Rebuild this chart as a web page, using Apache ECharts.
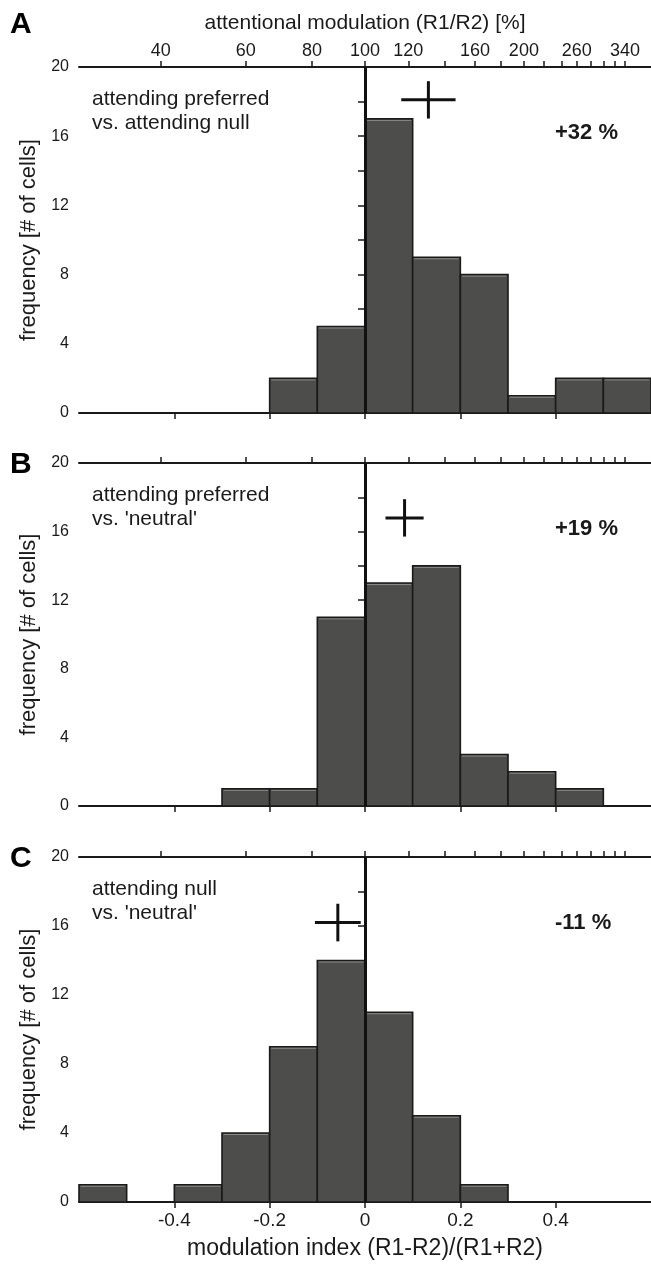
<!DOCTYPE html>
<html>
<head>
<meta charset="utf-8">
<script src="https://cdn.jsdelivr.net/npm/echarts@6/dist/echarts.min.js"></script>
<style>
html, body { margin: 0; padding: 0; background: #fff; }
#chart { width: 651px; height: 1269px; }
</style>
</head>
<body>
<div id="chart"></div>
<script>
// histogram bins: left edges, width 0.1
var binStarts = [-0.6, -0.5, -0.4, -0.3, -0.2, -0.1, 0, 0.1, 0.2, 0.3, 0.4, 0.5];
var binWidth = 0.1;
var countsA = [0, 0, 0, 0, 2, 5, 17, 9, 8, 1, 2, 2];
var countsB = [0, 0, 0, 1, 1, 11, 13, 14, 3, 2, 1, 0];
var countsC = [1, 0, 1, 4, 9, 14, 11, 5, 1, 0, 0, 0];

// mean +- error crosses: [x, y, dx, dy]
var crossA = [0.133, 18.1, 0.057, 1.08];
var crossB = [0.083, 16.8, 0.040, 1.09];
var crossC = [-0.057, 16.2, 0.048, 1.09];

var panelLetters = ['A', 'B', 'C'];
var panelLines = [
	['attending preferred', 'vs. attending null'],
	['attending preferred', "vs. 'neutral'"],
	['attending null', "vs. 'neutral'"]
];
var panelPercents = ['+32 %', '+19 %', '-11 %'];

var yTicks = [0, 2, 4, 6, 8, 10, 12, 14, 16, 18, 20];
var yLabels = [0, 4, 8, 12, 16, 20];
var xTicks = [-0.4, -0.2, 0, 0.2, 0.4];
var topTickPct = [40, 60, 80, 100, 120, 140, 160, 180, 200, 220, 240, 260, 280, 300, 320, 340];
var topLabelPct = [40, 60, 80, 100, 120, 160, 200, 260, 340];

var fontFam = '"Liberation Sans", Arial, sans-serif';
var ink = '#1a1a1a';

// R1/R2 in percent -> modulation index (R1-R2)/(R1+R2)
function pctToIndex(p) { return (p - 100) / (p + 100); }
function indexToPct(v) { return Math.round(100 * (1 + v) / (1 - v)); }

var grids = [
	{ left: 79, right: 0, top: 67, height: 346 },
	{ left: 79, right: 0, top: 463, height: 343 },
	{ left: 79, right: 0, top: 857, height: 345 }
];

function renderBar(params, api) {
	var x0 = api.value(0), x1 = api.value(1), n = api.value(2);
	var p0 = api.coord([x0, n]);
	var p1 = api.coord([x1, 0]);
	var kids = [{
		type: 'rect',
		shape: { x: p0[0], y: p0[1], width: p1[0] - p0[0], height: p1[1] - p0[1] },
		style: { fill: '#4d4d4b', stroke: ink, lineWidth: 1.6 }
	}];
	if (n > 0) {
		// faint light edge just under the top of each bar
		kids.push({
			type: 'line',
			shape: { x1: p0[0] + 1.5, y1: p0[1] + 1.5, x2: p1[0] - 1.5, y2: p0[1] + 1.5 },
			style: { stroke: '#8a8a88', lineWidth: 1 }
		});
	}
	return { type: 'group', children: kids };
}

function renderCross(params, api) {
	var x = api.value(0), y = api.value(1), dx = api.value(2), dy = api.value(3);
	var l = api.coord([x - dx, y]), r = api.coord([x + dx, y]);
	var t = api.coord([x, y + dy]), b = api.coord([x, y - dy]);
	var st = { stroke: '#111', lineWidth: 3 };
	return {
		type: 'group',
		children: [
			{ type: 'line', shape: { x1: l[0], y1: l[1], x2: r[0], y2: r[1] }, style: st },
			{ type: 'line', shape: { x1: t[0], y1: t[1], x2: b[0], y2: b[1] }, style: st }
		]
	};
}

var allCounts = [countsA, countsB, countsC];
var allCross = [crossA, crossB, crossC];

var xAxes = [], yAxes = [], series = [], graphics = [];

for (var i = 0; i < 3; i++) {
	var last = (i === 2);
	xAxes.push({
		gridIndex: i, type: 'value', position: 'bottom', min: -0.6, max: 0.6,
		name: last ? 'modulation index (R1-R2)/(R1+R2)' : '',
		nameLocation: 'middle', nameGap: 35,
		nameTextStyle: { fontFamily: fontFam, fontSize: 23, color: ink },
		axisLine: { onZero: false, lineStyle: { color: ink, width: 2 } },
		axisTick: { show: true, length: 6, customValues: xTicks, lineStyle: { color: ink, width: 1.5 } },
		axisLabel: { show: last, customValues: xTicks, margin: 9, fontFamily: fontFam, fontSize: 19, color: ink,
			formatter: function(v) { return v === 0 ? '0' : String(+v.toFixed(1)); } },
		splitLine: { show: false }
	});
	xAxes.push({
		gridIndex: i, type: 'value', position: 'top', min: -0.6, max: 0.6,
		name: i === 0 ? 'attentional modulation (R1/R2) [%]' : '',
		nameLocation: 'middle', nameGap: 33,
		nameTextStyle: { fontFamily: fontFam, fontSize: 21, color: ink },
		axisLine: { onZero: false, lineStyle: { color: ink, width: 2 } },
		axisTick: { show: true, length: 6, customValues: topTickPct.map(pctToIndex), lineStyle: { color: ink, width: 1.5 } },
		axisLabel: { show: i === 0, customValues: topLabelPct.map(pctToIndex), margin: 7, fontFamily: fontFam, fontSize: 18, color: ink,
			formatter: function(v) { return String(indexToPct(v)); } },
		splitLine: { show: false }
	});
	yAxes.push({
		gridIndex: i, type: 'value', min: 0, max: 20,
		name: 'frequency [# of cells]', nameLocation: 'middle', nameGap: 35,
		nameTextStyle: { fontFamily: fontFam, fontSize: 22, color: ink },
		axisLine: { show: true, lineStyle: { color: ink, width: 2 } },
		axisTick: { show: true, length: 7, customValues: yTicks, lineStyle: { color: ink, width: 1.5 } },
		axisLabel: { customValues: yLabels, margin: 10, fontFamily: fontFam, fontSize: 16, color: ink },
		splitLine: { show: false }
	});

	series.push({
		type: 'custom', xAxisIndex: i * 2, yAxisIndex: i,
		renderItem: renderBar,
		encode: { x: [0, 1], y: 2 },
		data: binStarts.map(function(s, k) { return [s, s + binWidth, allCounts[i][k]]; }),
		markLine: {
			silent: true, symbol: 'none', label: { show: false },
			lineStyle: { color: '#111', width: 3, type: 'solid' },
			data: [{ xAxis: 0 }]
		},
		z: 2
	});
	series.push({
		type: 'custom', xAxisIndex: i * 2, yAxisIndex: i,
		renderItem: renderCross,
		encode: { x: 0, y: 1 },
		data: [allCross[i]],
		z: 3
	});

	var gTop = grids[i].top;
	graphics.push({
		type: 'text', x: 10, y: i === 0 ? 25 : gTop + 2,
		style: { text: panelLetters[i], font: 'bold 30px ' + fontFam, fill: '#000', verticalAlign: 'middle' }
	});
	graphics.push({
		type: 'text', x: 92, y: gTop + 20,
		style: { text: panelLines[i].join('\n'), font: '21px ' + fontFam, fill: ink, lineHeight: 24 }
	});
	graphics.push({
		type: 'text', x: 555, y: gTop + 66,
		style: { text: panelPercents[i], font: 'bold 22px ' + fontFam, fill: ink, verticalAlign: 'middle' }
	});
}

var myChart = echarts.init(document.getElementById('chart'));
myChart.setOption({
	animation: false,
	backgroundColor: '#fff',
	grid: grids,
	xAxis: xAxes,
	yAxis: yAxes,
	series: series,
	graphic: graphics
});
</script>
</body>
</html>
